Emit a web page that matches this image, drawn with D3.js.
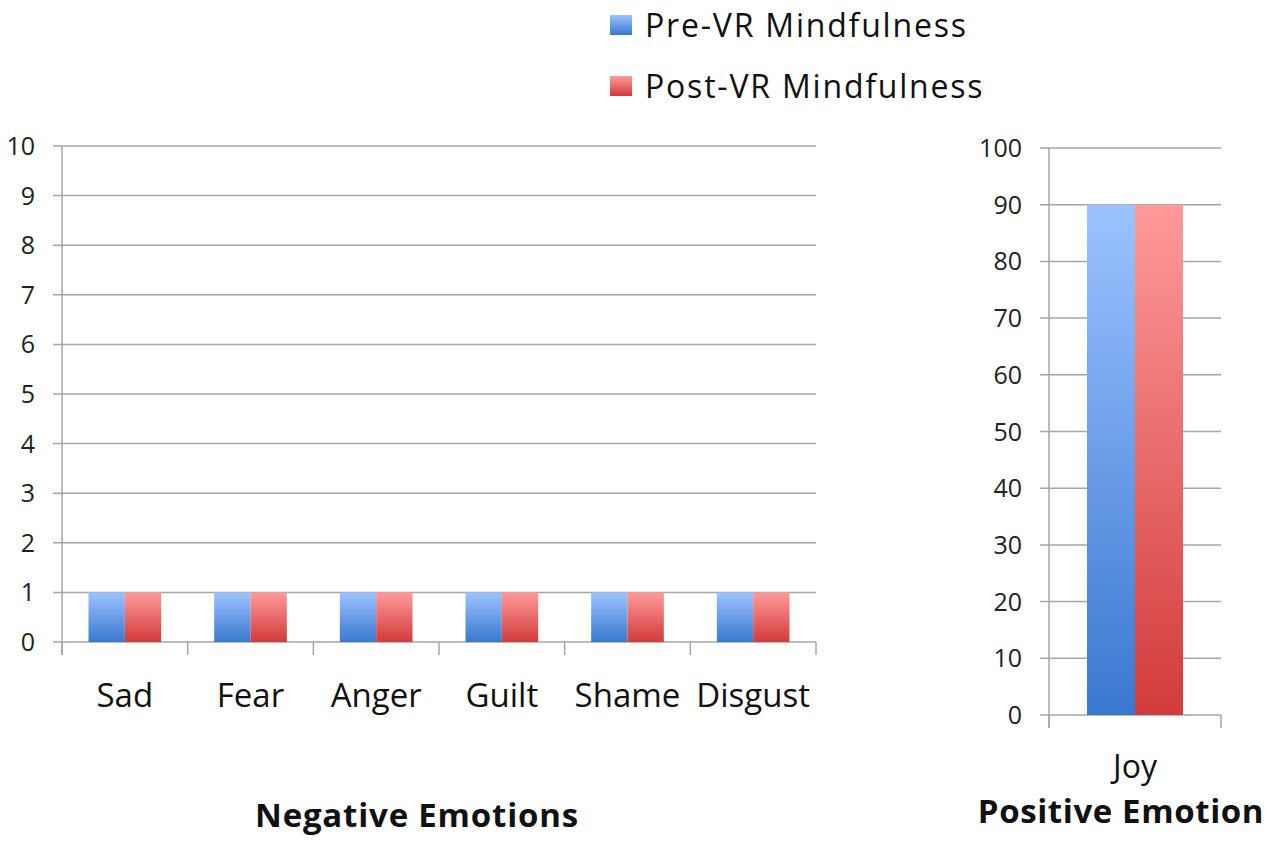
<!DOCTYPE html>
<html><head><meta charset="utf-8">
<script src="https://cdn.jsdelivr.net/npm/d3@7"></script>
<style>body{margin:0;background:#fff}</style>
</head><body>
<svg id="c" width="1273" height="842"></svg>
<script>
const negCategories = ["Sad","Fear","Anger","Guilt","Shame","Disgust"];
const negPre = [1,1,1,1,1,1];
const negPost = [1,1,1,1,1,1];
const posCategories = ["Joy"];
const posPre = [90];
const posPost = [90];
const seriesNames = ["Pre-VR Mindfulness","Post-VR Mindfulness"];
const negTicks = [0,1,2,3,4,5,6,7,8,9,10];
const posTicks = [0,10,20,30,40,50,60,70,80,90,100];

const svg = d3.select("#c");
const font = "'Open Sans', sans-serif";
const defs = svg.append("defs");
function grad(id, top, bottom){
  const g = defs.append("linearGradient").attr("id",id).attr("x1",0).attr("y1",0).attr("x2",0).attr("y2",1);
  g.append("stop").attr("offset","0%").attr("stop-color",top);
  g.append("stop").attr("offset","100%").attr("stop-color",bottom);
}
grad("gPre","#9cc3ff","#3a78d0");
grad("gPost","#ff9a9a","#d23b3b");
const fills = ["url(#gPre)","url(#gPost)"];
const gridC = "#a6a6a6";

function panel(cfg){
  const {cats, pre, post, ticks, x0, x1, yTop, yBot, max, innerPad, labelSize, labelY} = cfg;
  const x = d3.scaleBand().domain(cats).range([x0,x1]).paddingInner(0).paddingOuter(0);
  const y = d3.scaleLinear().domain([0,max]).range([yBot,yTop]);
  const g = svg.append("g");
  g.selectAll(".grid").data(ticks).enter().append("line")
    .attr("x1",x0-9).attr("x2",x1).attr("y1",d=>y(d)).attr("y2",d=>y(d))
    .attr("stroke",gridC).attr("stroke-width",1.5);
  g.append("line").attr("x1",x0).attr("x2",x0).attr("y1",y(max)).attr("y2",yBot+13)
    .attr("stroke",gridC).attr("stroke-width",1.5);
  const bounds = cats.map(c=>x(c)).concat([x1]);
  g.selectAll(".ct").data(bounds).enter().append("line")
    .attr("x1",d=>d).attr("x2",d=>d).attr("y1",yBot).attr("y2",yBot+13)
    .attr("stroke",gridC).attr("stroke-width",1.5);
  g.selectAll(".yl").data(ticks).enter().append("text")
    .attr("x",x0-27).attr("y",d=>y(d)).attr("dy","0.36em").attr("text-anchor","end")
    .attr("font-family",font).attr("font-size",25).attr("fill","#222").text(d=>d);
  const bw = (x.bandwidth() - 2*innerPad)/2;
  [pre,post].forEach((vals,si)=>{
    g.selectAll(".b"+si).data(cats).enter().append("rect")
      .attr("x",(c)=>x(c)+innerPad+si*bw).attr("width",bw)
      .attr("y",(c,i)=>y(vals[i])).attr("height",(c,i)=>yBot-y(vals[i]))
      .attr("fill",fills[si]);
  });
  g.selectAll(".cl").data(cats).enter().append("text")
    .attr("x",c=>x(c)+x.bandwidth()/2).attr("y",labelY).attr("text-anchor","middle")
    .attr("font-family",font).attr("font-size",labelSize).attr("fill","#111").text(c=>c);
  return {x,y};
}

panel({cats:negCategories, pre:negPre, post:negPost, ticks:negTicks, x0:62, x1:816, yTop:146, yBot:642, max:10, innerPad:26.5, labelSize:33, labelY:707});
panel({cats:posCategories, pre:posPre, post:posPost, ticks:posTicks, x0:1049, x1:1221, yTop:148, yBot:715, max:100, innerPad:38, labelSize:32, labelY:778});

svg.append("text").attr("x",417).attr("y",827).attr("text-anchor","middle")
  .attr("font-family",font).attr("font-weight","bold").attr("font-size",33).attr("letter-spacing",0.8).attr("fill","#111").text("Negative Emotions");
svg.append("text").attr("x",1121).attr("y",823).attr("text-anchor","middle")
  .attr("font-family",font).attr("font-weight","bold").attr("font-size",33).attr("letter-spacing",0.6).attr("fill","#111").text("Positive Emotion");

const leg = svg.append("g");
seriesNames.forEach((n,i)=>{
  const yy = 25 + i*61;
  leg.append("rect").attr("x",610).attr("y",yy-10).attr("width",22).attr("height",20).attr("fill",fills[i]);
  leg.append("text").attr("x",645).attr("y",yy).attr("dy","0.36em")
    .attr("font-family",font).attr("font-size",32).attr("letter-spacing",1.8).attr("fill","#111").text(n);
});
</script>
</body></html>
